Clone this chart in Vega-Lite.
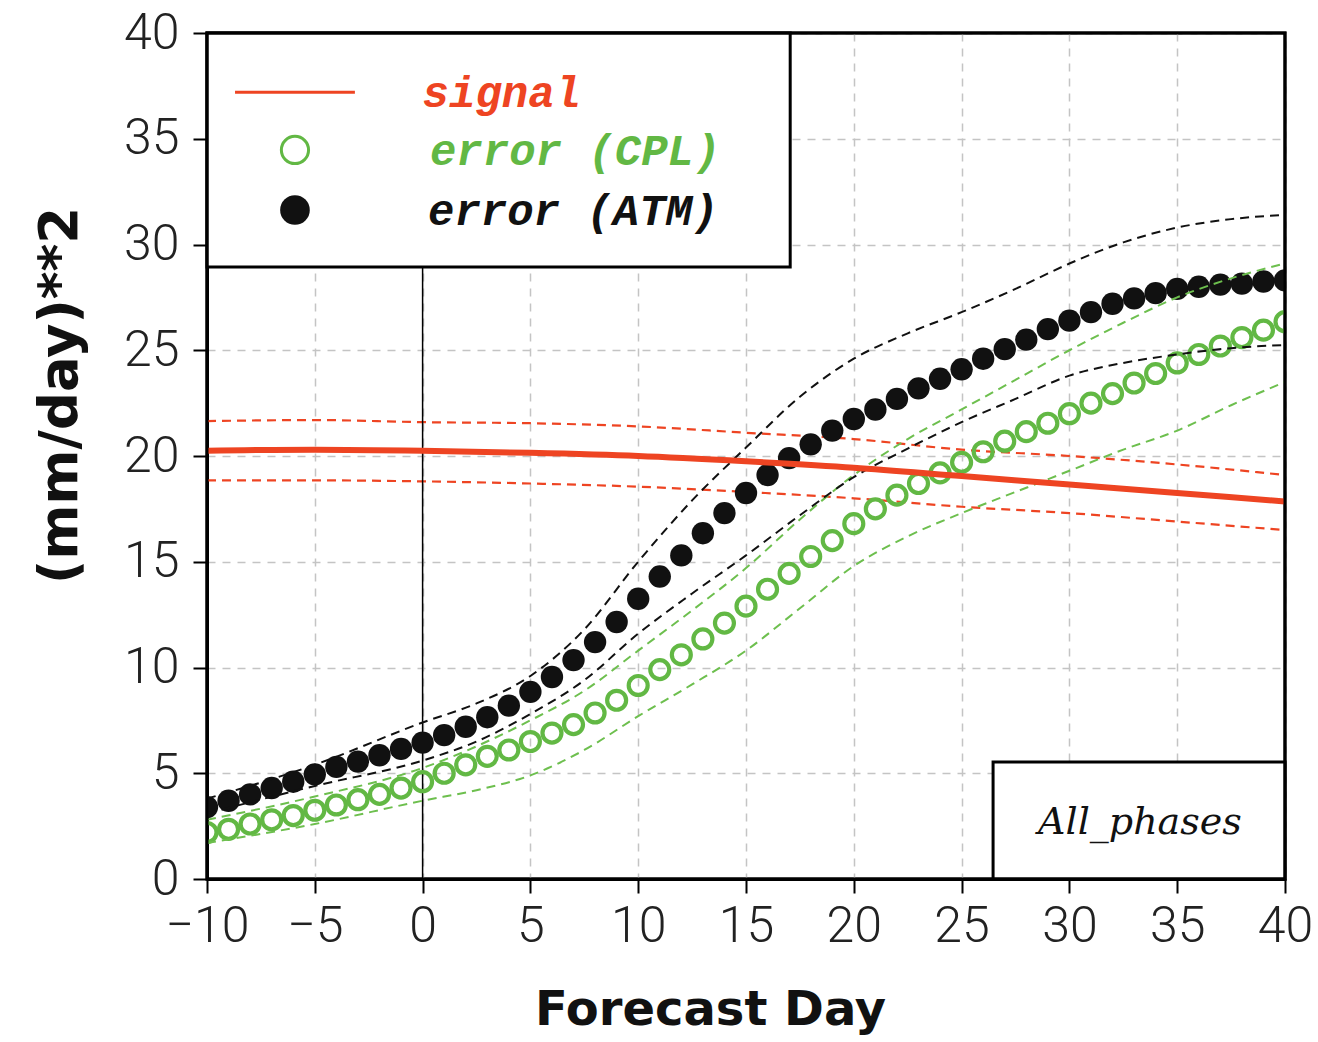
{
  "$schema": "https://vega.github.io/schema/vega-lite/v6.json",
  "width": 1078,
  "height": 846,
  "autosize": {"type": "none"},
  "padding": {"left": 207, "top": 33, "right": 33, "bottom": 163},
  "background": "white",
  "config": {
    "view": {"stroke": "black", "strokeWidth": 3},
    "axis": {
      "domainColor": "black",
      "domainWidth": 3,
      "tickColor": "black",
      "tickWidth": 2,
      "tickSize": 14,
      "gridColor": "#c4c4c4",
      "gridDash": [8, 7],
      "gridWidth": 1.5,
      "labelFont": "Roboto",
      "labelFontWeight": 300,
      "labelFontSize": 50,
      "labelColor": "#222222",
      "titleFont": "DejaVu Sans",
      "titleFontWeight": "bold",
      "titleColor": "#111111"
    }
  },
  "datasets": {
    "pts": [
      {"day": -10, "model": "ATM", "err": 3.4}, {"day": -9, "model": "ATM", "err": 3.7}, {"day": -8, "model": "ATM", "err": 4.0},
      {"day": -7, "model": "ATM", "err": 4.3}, {"day": -6, "model": "ATM", "err": 4.6}, {"day": -5, "model": "ATM", "err": 4.95},
      {"day": -4, "model": "ATM", "err": 5.3}, {"day": -3, "model": "ATM", "err": 5.55}, {"day": -2, "model": "ATM", "err": 5.85},
      {"day": -1, "model": "ATM", "err": 6.15}, {"day": 0, "model": "ATM", "err": 6.45}, {"day": 1, "model": "ATM", "err": 6.8},
      {"day": 2, "model": "ATM", "err": 7.2}, {"day": 3, "model": "ATM", "err": 7.65}, {"day": 4, "model": "ATM", "err": 8.2},
      {"day": 5, "model": "ATM", "err": 8.85}, {"day": 6, "model": "ATM", "err": 9.55}, {"day": 7, "model": "ATM", "err": 10.35},
      {"day": 8, "model": "ATM", "err": 11.2}, {"day": 9, "model": "ATM", "err": 12.15}, {"day": 10, "model": "ATM", "err": 13.25},
      {"day": 11, "model": "ATM", "err": 14.3}, {"day": 12, "model": "ATM", "err": 15.3}, {"day": 13, "model": "ATM", "err": 16.35},
      {"day": 14, "model": "ATM", "err": 17.3}, {"day": 15, "model": "ATM", "err": 18.25}, {"day": 16, "model": "ATM", "err": 19.1},
      {"day": 17, "model": "ATM", "err": 19.9}, {"day": 18, "model": "ATM", "err": 20.55}, {"day": 19, "model": "ATM", "err": 21.2},
      {"day": 20, "model": "ATM", "err": 21.75}, {"day": 21, "model": "ATM", "err": 22.2}, {"day": 22, "model": "ATM", "err": 22.7},
      {"day": 23, "model": "ATM", "err": 23.2}, {"day": 24, "model": "ATM", "err": 23.65}, {"day": 25, "model": "ATM", "err": 24.1},
      {"day": 26, "model": "ATM", "err": 24.6}, {"day": 27, "model": "ATM", "err": 25.05}, {"day": 28, "model": "ATM", "err": 25.5},
      {"day": 29, "model": "ATM", "err": 26.0}, {"day": 30, "model": "ATM", "err": 26.4}, {"day": 31, "model": "ATM", "err": 26.8},
      {"day": 32, "model": "ATM", "err": 27.2}, {"day": 33, "model": "ATM", "err": 27.45}, {"day": 34, "model": "ATM", "err": 27.7},
      {"day": 35, "model": "ATM", "err": 27.9}, {"day": 36, "model": "ATM", "err": 28.0}, {"day": 37, "model": "ATM", "err": 28.1},
      {"day": 38, "model": "ATM", "err": 28.15}, {"day": 39, "model": "ATM", "err": 28.25}, {"day": 40, "model": "ATM", "err": 28.3},
      {"day": -10, "model": "CPL", "err": 2.2}, {"day": -9, "model": "CPL", "err": 2.35}, {"day": -8, "model": "CPL", "err": 2.6},
      {"day": -7, "model": "CPL", "err": 2.8}, {"day": -6, "model": "CPL", "err": 3.0}, {"day": -5, "model": "CPL", "err": 3.25},
      {"day": -4, "model": "CPL", "err": 3.5}, {"day": -3, "model": "CPL", "err": 3.75}, {"day": -2, "model": "CPL", "err": 4.0},
      {"day": -1, "model": "CPL", "err": 4.3}, {"day": 0, "model": "CPL", "err": 4.6}, {"day": 1, "model": "CPL", "err": 5.0},
      {"day": 2, "model": "CPL", "err": 5.4}, {"day": 3, "model": "CPL", "err": 5.8}, {"day": 4, "model": "CPL", "err": 6.1},
      {"day": 5, "model": "CPL", "err": 6.5}, {"day": 6, "model": "CPL", "err": 6.9}, {"day": 7, "model": "CPL", "err": 7.3},
      {"day": 8, "model": "CPL", "err": 7.85}, {"day": 9, "model": "CPL", "err": 8.45}, {"day": 10, "model": "CPL", "err": 9.15},
      {"day": 11, "model": "CPL", "err": 9.9}, {"day": 12, "model": "CPL", "err": 10.6}, {"day": 13, "model": "CPL", "err": 11.35},
      {"day": 14, "model": "CPL", "err": 12.1}, {"day": 15, "model": "CPL", "err": 12.9}, {"day": 16, "model": "CPL", "err": 13.7},
      {"day": 17, "model": "CPL", "err": 14.45}, {"day": 18, "model": "CPL", "err": 15.25}, {"day": 19, "model": "CPL", "err": 16.0},
      {"day": 20, "model": "CPL", "err": 16.8}, {"day": 21, "model": "CPL", "err": 17.5}, {"day": 22, "model": "CPL", "err": 18.15},
      {"day": 23, "model": "CPL", "err": 18.7}, {"day": 24, "model": "CPL", "err": 19.2}, {"day": 25, "model": "CPL", "err": 19.7},
      {"day": 26, "model": "CPL", "err": 20.2}, {"day": 27, "model": "CPL", "err": 20.7}, {"day": 28, "model": "CPL", "err": 21.15},
      {"day": 29, "model": "CPL", "err": 21.55}, {"day": 30, "model": "CPL", "err": 22.0}, {"day": 31, "model": "CPL", "err": 22.5},
      {"day": 32, "model": "CPL", "err": 22.95}, {"day": 33, "model": "CPL", "err": 23.45}, {"day": 34, "model": "CPL", "err": 23.9},
      {"day": 35, "model": "CPL", "err": 24.4}, {"day": 36, "model": "CPL", "err": 24.8}, {"day": 37, "model": "CPL", "err": 25.2},
      {"day": 38, "model": "CPL", "err": 25.6}, {"day": 39, "model": "CPL", "err": 25.95}, {"day": 40, "model": "CPL", "err": 26.35}
    ],
    "curves": [
      {"day": -10, "curve": "signal", "v": 20.25}, {"day": -5, "curve": "signal", "v": 20.3}, {"day": 0, "curve": "signal", "v": 20.25},
      {"day": 5, "curve": "signal", "v": 20.15}, {"day": 10, "curve": "signal", "v": 20.0}, {"day": 15, "curve": "signal", "v": 19.75},
      {"day": 20, "curve": "signal", "v": 19.45}, {"day": 25, "curve": "signal", "v": 19.05}, {"day": 30, "curve": "signal", "v": 18.65},
      {"day": 35, "curve": "signal", "v": 18.25}, {"day": 40, "curve": "signal", "v": 17.85},
      {"day": -10, "curve": "signal_hi", "v": 21.65}, {"day": -5, "curve": "signal_hi", "v": 21.7}, {"day": 0, "curve": "signal_hi", "v": 21.6},
      {"day": 5, "curve": "signal_hi", "v": 21.55}, {"day": 10, "curve": "signal_hi", "v": 21.4}, {"day": 15, "curve": "signal_hi", "v": 21.1},
      {"day": 20, "curve": "signal_hi", "v": 20.8}, {"day": 25, "curve": "signal_hi", "v": 20.3}, {"day": 30, "curve": "signal_hi", "v": 20.0},
      {"day": 35, "curve": "signal_hi", "v": 19.6}, {"day": 40, "curve": "signal_hi", "v": 19.1},
      {"day": -10, "curve": "signal_lo", "v": 18.85}, {"day": -5, "curve": "signal_lo", "v": 18.85}, {"day": 0, "curve": "signal_lo", "v": 18.8},
      {"day": 5, "curve": "signal_lo", "v": 18.7}, {"day": 10, "curve": "signal_lo", "v": 18.55}, {"day": 15, "curve": "signal_lo", "v": 18.3},
      {"day": 20, "curve": "signal_lo", "v": 18.0}, {"day": 25, "curve": "signal_lo", "v": 17.6}, {"day": 30, "curve": "signal_lo", "v": 17.3},
      {"day": 35, "curve": "signal_lo", "v": 16.9}, {"day": 40, "curve": "signal_lo", "v": 16.5},
      {"day": -10, "curve": "ATM_hi", "v": 3.8}, {"day": -5, "curve": "ATM_hi", "v": 5.4}, {"day": 0, "curve": "ATM_hi", "v": 7.4},
      {"day": 2.5, "curve": "ATM_hi", "v": 8.3}, {"day": 5, "curve": "ATM_hi", "v": 9.6}, {"day": 7.5, "curve": "ATM_hi", "v": 11.8},
      {"day": 10, "curve": "ATM_hi", "v": 15.0}, {"day": 12.5, "curve": "ATM_hi", "v": 17.9}, {"day": 15, "curve": "ATM_hi", "v": 20.4},
      {"day": 17.5, "curve": "ATM_hi", "v": 22.8}, {"day": 20, "curve": "ATM_hi", "v": 24.6}, {"day": 22.5, "curve": "ATM_hi", "v": 25.8},
      {"day": 25, "curve": "ATM_hi", "v": 26.8}, {"day": 27.5, "curve": "ATM_hi", "v": 27.9}, {"day": 30, "curve": "ATM_hi", "v": 29.1},
      {"day": 32.5, "curve": "ATM_hi", "v": 30.1}, {"day": 35, "curve": "ATM_hi", "v": 30.8}, {"day": 37.5, "curve": "ATM_hi", "v": 31.2},
      {"day": 40, "curve": "ATM_hi", "v": 31.4},
      {"day": -10, "curve": "ATM_lo", "v": 3.1}, {"day": -5, "curve": "ATM_lo", "v": 4.4}, {"day": 0, "curve": "ATM_lo", "v": 5.6},
      {"day": 2.5, "curve": "ATM_lo", "v": 6.5}, {"day": 5, "curve": "ATM_lo", "v": 7.8}, {"day": 7.5, "curve": "ATM_lo", "v": 9.4},
      {"day": 10, "curve": "ATM_lo", "v": 11.6}, {"day": 12.5, "curve": "ATM_lo", "v": 13.5}, {"day": 15, "curve": "ATM_lo", "v": 15.3},
      {"day": 17.5, "curve": "ATM_lo", "v": 17.2}, {"day": 20, "curve": "ATM_lo", "v": 19.0}, {"day": 22.5, "curve": "ATM_lo", "v": 20.35},
      {"day": 25, "curve": "ATM_lo", "v": 21.6}, {"day": 27.5, "curve": "ATM_lo", "v": 22.7}, {"day": 30, "curve": "ATM_lo", "v": 23.8},
      {"day": 32.5, "curve": "ATM_lo", "v": 24.4}, {"day": 35, "curve": "ATM_lo", "v": 24.8}, {"day": 37.5, "curve": "ATM_lo", "v": 25.1},
      {"day": 40, "curve": "ATM_lo", "v": 25.25},
      {"day": -10, "curve": "CPL_hi", "v": 2.8}, {"day": -5, "curve": "CPL_hi", "v": 3.9}, {"day": 0, "curve": "CPL_hi", "v": 5.25},
      {"day": 5, "curve": "CPL_hi", "v": 7.5}, {"day": 7.5, "curve": "CPL_hi", "v": 8.9}, {"day": 10, "curve": "CPL_hi", "v": 10.8},
      {"day": 12.5, "curve": "CPL_hi", "v": 12.7}, {"day": 15, "curve": "CPL_hi", "v": 14.7}, {"day": 17.5, "curve": "CPL_hi", "v": 17.0},
      {"day": 20, "curve": "CPL_hi", "v": 19.1}, {"day": 22.5, "curve": "CPL_hi", "v": 20.8}, {"day": 25, "curve": "CPL_hi", "v": 22.2},
      {"day": 27.5, "curve": "CPL_hi", "v": 23.6}, {"day": 30, "curve": "CPL_hi", "v": 25.0}, {"day": 32.5, "curve": "CPL_hi", "v": 26.3},
      {"day": 35, "curve": "CPL_hi", "v": 27.5}, {"day": 37.5, "curve": "CPL_hi", "v": 28.4}, {"day": 40, "curve": "CPL_hi", "v": 29.1},
      {"day": -10, "curve": "CPL_lo", "v": 1.7}, {"day": -5, "curve": "CPL_lo", "v": 2.6}, {"day": 0, "curve": "CPL_lo", "v": 3.7},
      {"day": 2.5, "curve": "CPL_lo", "v": 4.2}, {"day": 5, "curve": "CPL_lo", "v": 4.9}, {"day": 7.5, "curve": "CPL_lo", "v": 6.1},
      {"day": 10, "curve": "CPL_lo", "v": 7.7}, {"day": 12.5, "curve": "CPL_lo", "v": 9.2}, {"day": 15, "curve": "CPL_lo", "v": 10.8},
      {"day": 17.5, "curve": "CPL_lo", "v": 12.8}, {"day": 20, "curve": "CPL_lo", "v": 14.8}, {"day": 22.5, "curve": "CPL_lo", "v": 16.2},
      {"day": 25, "curve": "CPL_lo", "v": 17.3}, {"day": 27.5, "curve": "CPL_lo", "v": 18.3}, {"day": 30, "curve": "CPL_lo", "v": 19.3},
      {"day": 32.5, "curve": "CPL_lo", "v": 20.3}, {"day": 35, "curve": "CPL_lo", "v": 21.2}, {"day": 37.5, "curve": "CPL_lo", "v": 22.4},
      {"day": 40, "curve": "CPL_lo", "v": 23.5}
    ]
  },
  "layer": [
    {
      "data": {"name": "curves"},
      "transform": [{"filter": "datum.curve === 'signal_lo' || datum.curve === 'signal_hi'"}],
      "mark": {"type": "line", "color": "#EE4422", "strokeWidth": 2.2, "strokeDash": [9, 6], "interpolate": "monotone", "clip": true},
      "encoding": {
        "x": {
          "field": "day", "type": "quantitative",
          "scale": {"domain": [-10, 40], "nice": false, "zero": false},
          "axis": {"values": [-10, -5, 0, 5, 10, 15, 20, 25, 30, 35, 40], "title": "Forecast Day", "titleFontSize": 48, "titleX": 503, "titleY": 131, "titleBaseline": "middle", "titleAlign": "center", "labelPadding": 8, "labelFlush": false, "labelOverlap": false}
        },
        "y": {
          "field": "v", "type": "quantitative",
          "scale": {"domain": [0, 40], "nice": false, "zero": true},
          "axis": {"values": [0, 5, 10, 15, 20, 25, 30, 35, 40], "title": "(mm/day)**2", "titleFontSize": 53, "titleX": -147, "titleY": 362, "titleAngle": -90, "titleBaseline": "middle", "titleAlign": "center", "labelPadding": 14, "labelFlush": false, "labelOverlap": false}
        },
        "detail": {"field": "curve"}
      }
    },
    {
      "data": {"values": [{"label": "day0"}]},
      "mark": {"type": "rule", "color": "black", "strokeWidth": 1.5},
      "encoding": {"x": {"datum": 0, "type": "quantitative"}}
    },
    {
      "data": {"name": "pts"},
      "transform": [{"filter": "datum.model === 'CPL'"}],
      "mark": {"type": "point", "shape": "circle", "filled": false, "color": "#62B844", "strokeWidth": 4.2, "size": 360, "opacity": 1, "clip": true},
      "encoding": {"x": {"field": "day", "type": "quantitative"}, "y": {"field": "err", "type": "quantitative"}}
    },
    {
      "data": {"name": "pts"},
      "transform": [{"filter": "datum.model === 'ATM'"}],
      "mark": {"type": "point", "shape": "circle", "filled": true, "color": "#111111", "size": 500, "opacity": 1, "clip": true},
      "encoding": {"x": {"field": "day", "type": "quantitative"}, "y": {"field": "err", "type": "quantitative"}}
    },
    {
      "data": {"name": "curves"},
      "transform": [{"filter": "datum.curve === 'CPL_lo' || datum.curve === 'CPL_hi'"}],
      "mark": {"type": "line", "color": "#6DBF4E", "strokeWidth": 2, "strokeDash": [9, 6], "interpolate": "monotone", "clip": true},
      "encoding": {"x": {"field": "day", "type": "quantitative"}, "y": {"field": "v", "type": "quantitative"}, "detail": {"field": "curve"}}
    },
    {
      "data": {"name": "curves"},
      "transform": [{"filter": "datum.curve === 'ATM_lo' || datum.curve === 'ATM_hi'"}],
      "mark": {"type": "line", "color": "#111111", "strokeWidth": 2, "strokeDash": [9, 6], "interpolate": "monotone", "clip": true},
      "encoding": {"x": {"field": "day", "type": "quantitative"}, "y": {"field": "v", "type": "quantitative"}, "detail": {"field": "curve"}}
    },
    {
      "data": {"name": "curves"},
      "transform": [{"filter": "datum.curve === 'signal'"}],
      "mark": {"type": "line", "color": "#EE4422", "strokeWidth": 6, "interpolate": "monotone", "clip": true},
      "encoding": {"x": {"field": "day", "type": "quantitative"}, "y": {"field": "v", "type": "quantitative"}}
    },
    {
      "data": {"values": [{"label": "legend box"}]},
      "mark": {"type": "rect", "fill": "white", "stroke": "black", "strokeWidth": 3},
      "encoding": {
        "x": {"datum": -10, "type": "quantitative"}, "x2": {"datum": 17.05},
        "y": {"datum": 28.94, "type": "quantitative"}, "y2": {"datum": 40}
      }
    },
    {
      "data": {"values": [{"label": "signal"}]},
      "mark": {"type": "rule", "color": "#EE4422", "strokeWidth": 3},
      "encoding": {
        "x": {"datum": -8.7, "type": "quantitative"}, "x2": {"datum": -3.14},
        "y": {"datum": 37.2, "type": "quantitative"}
      }
    },
    {
      "data": {"values": [{"label": "error (CPL)"}]},
      "mark": {"type": "point", "shape": "circle", "filled": false, "color": "#62B844", "strokeWidth": 3, "size": 740, "opacity": 1},
      "encoding": {"x": {"datum": -5.92, "type": "quantitative"}, "y": {"datum": 34.47, "type": "quantitative"}}
    },
    {
      "data": {"values": [{"label": "error (ATM)"}]},
      "mark": {"type": "point", "shape": "circle", "filled": true, "color": "#111111", "size": 880, "opacity": 1},
      "encoding": {"x": {"datum": -5.92, "type": "quantitative"}, "y": {"datum": 31.63, "type": "quantitative"}}
    },
    {
      "data": {"values": [{"label": "signal"}]},
      "mark": {"type": "text", "font": "Liberation Mono", "fontStyle": "italic", "fontWeight": "bold", "fontSize": 44, "color": "#EE4422", "align": "left", "baseline": "middle"},
      "encoding": {"x": {"datum": 0.0, "type": "quantitative"}, "y": {"datum": 37.1, "type": "quantitative"}, "text": {"field": "label"}}
    },
    {
      "data": {"values": [{"label": "error (CPL)"}]},
      "mark": {"type": "text", "font": "Liberation Mono", "fontStyle": "italic", "fontWeight": "bold", "fontSize": 44, "color": "#62B844", "align": "left", "baseline": "middle"},
      "encoding": {"x": {"datum": 0.34, "type": "quantitative"}, "y": {"datum": 34.35, "type": "quantitative"}, "text": {"field": "label"}}
    },
    {
      "data": {"values": [{"label": "error (ATM)"}]},
      "mark": {"type": "text", "font": "Liberation Mono", "fontStyle": "italic", "fontWeight": "bold", "fontSize": 44, "color": "#111111", "align": "left", "baseline": "middle"},
      "encoding": {"x": {"datum": 0.25, "type": "quantitative"}, "y": {"datum": 31.55, "type": "quantitative"}, "text": {"field": "label"}}
    },
    {
      "data": {"values": [{"label": "phase box"}]},
      "mark": {"type": "rect", "fill": "white", "stroke": "black", "strokeWidth": 3},
      "encoding": {
        "x": {"datum": 26.46, "type": "quantitative"}, "x2": {"datum": 40},
        "y": {"datum": 0, "type": "quantitative"}, "y2": {"datum": 5.53}
      }
    },
    {
      "data": {"values": [{"label": "All_phases"}]},
      "mark": {"type": "text", "font": "DejaVu Serif", "fontStyle": "italic", "fontWeight": "normal", "fontSize": 38, "color": "#111111", "align": "center", "baseline": "middle"},
      "encoding": {"x": {"datum": 33.27, "type": "quantitative"}, "y": {"datum": 2.65, "type": "quantitative"}, "text": {"field": "label"}}
    },
    {
      "data": {"values": [{"label": "frame"}]},
      "mark": {"type": "rect", "fill": "white", "fillOpacity": 0, "stroke": "black", "strokeWidth": 3},
      "encoding": {
        "x": {"datum": -10, "type": "quantitative"}, "x2": {"datum": 40},
        "y": {"datum": 0, "type": "quantitative"}, "y2": {"datum": 40}
      }
    }
  ]
}
